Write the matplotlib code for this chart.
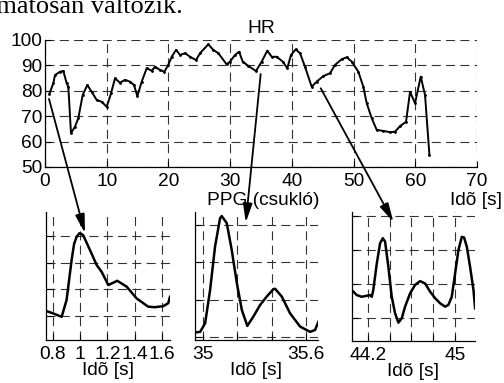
import matplotlib
matplotlib.use("Agg")
import matplotlib.pyplot as plt
from matplotlib.patches import ConnectionPatch

plt.rcParams['font.family'] = ['Liberation Sans', 'DejaVu Sans']
plt.rcParams['lines.scale_dashes'] = False

# ---- data ----
hr_t = [0.70, 1.35, 1.62, 2.43, 2.97, 3.51, 3.78, 4.21, 4.86, 5.40, 6.10, 6.86, 7.56, 8.37, 9.18,
        10.0, 10.7, 11.34, 12.15, 12.96, 13.77, 14.42, 14.96, 15.67, 16.48, 17.29, 17.82, 18.64, 19.33, 19.98,
        20.53, 21.23, 21.88, 22.69, 23.50, 24.47, 25.12, 26.46, 27.27, 28.08, 29.44, 29.98, 30.79, 31.44, 32.04,
        32.95, 34.19, 35.11, 36.02, 36.73, 37.54, 38.52, 39.26, 39.86, 40.62, 41.32, 42.13, 43.21, 44.02, 45.10,
        46.18, 46.99, 48.07, 48.88, 49.70, 50.77, 51.58, 52.13, 52.94, 53.75, 54.83, 55.91, 56.72, 57.53, 58.50,
        59.15, 59.96, 60.88, 61.58, 62.29]
hr_v = [78.7, 83.0, 86.2, 87.5, 87.8, 83.0, 81.6, 63.3, 65.9, 69.2, 78.3, 82.3, 79.6, 76.4, 75.7,
        73.7, 79.0, 84.9, 83.2, 84.3, 83.6, 82.3, 77.9, 83.6, 88.9, 87.9, 89.5, 88.2, 87.5, 90.2,
        93.4, 96.1, 94.1, 94.8, 93.4, 92.1, 94.8, 98.3, 96.1, 94.8, 90.4, 91.5, 94.1, 95.4, 91.5,
        89.8, 87.8, 91.5, 95.8, 93.4, 93.4, 91.5, 88.9, 94.1, 96.3, 94.8, 89.5, 81.6, 83.6, 85.8,
        86.9, 90.2, 92.4, 93.2, 91.5, 87.5, 81.6, 75.1, 69.2, 64.6, 64.2, 63.7, 63.9, 66.1, 67.8,
        79.6, 75.1, 85.6, 78.3, 54.7]
hr_xticks = [0, 10, 20, 30, 40, 50, 60, 70]
hr_yticks = [50, 60, 70, 80, 90, 100]

p1_t = [0.749, 0.80, 0.864, 0.90, 0.937, 0.955, 0.974, 0.993, 1.005, 1.022, 1.072, 1.121, 1.157, 1.206,
        1.272, 1.341, 1.414, 1.499, 1.549, 1.610, 1.646, 1.659]
p1_v = [1.19, 1.10, 0.97, 1.60, 3.10, 3.70, 3.97, 4.10, 4.09, 4.03, 3.47, 2.91, 2.66, 2.16,
        2.32, 2.10, 1.66, 1.35, 1.33, 1.37, 1.48, 1.72]
p1_xticks = [0.8, 1.0, 1.2, 1.4, 1.6]
p1_xlabels = ['0.8', '1', '1.2', '1.4', '1.6']

p2_t = [34.949, 34.983, 35.012, 35.041, 35.070, 35.099, 35.109, 35.138, 35.167, 35.197, 35.226, 35.258,
        35.293, 35.332, 35.371, 35.410, 35.420, 35.459, 35.507, 35.566, 35.624, 35.653, 35.672]
p2_v = [1.11, 1.13, 1.36, 2.26, 3.43, 4.19, 4.25, 4.06, 3.34, 2.44, 1.72, 1.29,
        1.54, 1.85, 2.08, 2.28, 2.29, 2.08, 1.63, 1.27, 1.13, 1.18, 1.40]
p2_xticks = [35.0, 35.2, 35.4, 35.6]
p2_xlabels = ['35', '', '', '35.6']

p3_t = [44.053, 44.099, 44.145, 44.191, 44.221, 44.237, 44.251, 44.283, 44.313, 44.338, 44.359, 44.389,
        44.420, 44.450, 44.481, 44.512, 44.542, 44.588, 44.634, 44.680, 44.726, 44.772, 44.817, 44.863,
        44.909, 44.939, 44.970, 45.001, 45.031, 45.062, 45.083, 45.108, 45.138, 45.169, 45.184]
p3_v = [1.83, 1.68, 1.63, 1.66, 1.68, 1.63, 1.83, 2.61, 3.20, 3.35, 3.25, 2.51,
        1.63, 1.15, 0.87, 1.00, 1.34, 1.73, 1.98, 2.09, 2.02, 1.78, 1.59, 1.44,
        1.34, 1.39, 1.63, 2.32, 3.00, 3.39, 3.37, 3.10, 2.51, 1.83, 1.29]
p3_xticks = [44.2, 44.4, 44.6, 44.8, 45.0]
p3_xlabels = ['44.2', '', '', '', '45']

sub_yticks = [1, 2, 3, 4]

# ---- figure ----
W, H = 504, 383
fig = plt.figure(figsize=(W / 100, H / 100), dpi=100)


def rect(l, t, r, b):
    return [l / W, (H - b) / H, (r - l) / W, (b - t) / H]


FS = 13.8
grid_kw = dict(color='#333333', linestyle=(0, (6.5, 3.8)), linewidth=0.8)


def style(ax, pad):
    for s in ['top', 'right']:
        ax.spines[s].set_visible(False)
    for s in ['left', 'bottom']:
        ax.spines[s].set_linewidth(0.9)
    ax.tick_params(direction='in', length=4, width=0.8, labelsize=FS, pad=pad)
    ax.grid(True, **grid_kw)
    ax.set_axisbelow(True)


ax = fig.add_axes(rect(45, 40, 477, 167))
ax.plot(hr_t, hr_v, color='black', lw=1.4, marker='.', ms=2)
ax.set_xlim(0, 70)
ax.set_ylim(50, 100)
ax.set_xticks(hr_xticks)
ax.set_yticks(hr_yticks)
style(ax, 4)
ax.tick_params(axis='y', pad=2)
ax.set_title('HR', fontsize=FS, pad=5)

ax1 = fig.add_axes(rect(46, 212, 170, 340))
ax1.plot(p1_t, p1_v, color='black', lw=1.8)
ax1.set_xlim(0.749, 1.659)
ax1.set_ylim(0.10, 4.90)
ax1.set_xticks(p1_xticks)
ax1.set_xticklabels(p1_xlabels)

ax2 = fig.add_axes(rect(195, 212, 318, 340))
ax2.plot(p2_t, p2_v, color='black', lw=1.8)
ax2.set_xlim(34.953, 35.67)
ax2.set_ylim(0.91, 4.36)
ax2.set_xticks(p2_xticks)
ax2.set_xticklabels(p2_xlabels)

ax3 = fig.add_axes(rect(351.7, 212, 475, 340.7))
ax3.plot(p3_t, p3_v, color='black', lw=1.8)
ax3.set_xlim(44.053, 45.183)
ax3.set_ylim(0.34, 4.12)
ax3.set_xticks(p3_xticks)
ax3.set_xticklabels(p3_xlabels)

for a in (ax1, ax2, ax3):
    a.set_yticks(sub_yticks)
    a.set_yticklabels([])
    style(a, 4.5)
    a.set_xlabel('Idõ [s]', fontsize=FS, labelpad=-1)

fig.text(476 / W, (H - 205) / H, 'Idõ [s]', fontsize=FS, ha='center', va='baseline')
fig.text(263 / W, (H - 205) / H, 'PPG (csukló)', fontsize=FS, ha='center', va='baseline')
fig.text(183 / W, (H - 13) / H, 'folyamatosan változik.', fontsize=19,
         family=['Liberation Serif', 'DejaVu Serif'], ha='right', va='baseline')

# arrows from HR curve to the zoomed PPG panels
arrows = [((0.65, 76.8), ax1, (1.035, 4.11)),
          ((34.95, 86.6), ax2, (35.249, 4.08)),
          ((44.68, 81.0), ax3, (44.435, 3.83))]
for start, axb, end in arrows:
    con = ConnectionPatch(xyA=start, coordsA='data', axesA=ax,
                          xyB=end, coordsB='data', axesB=axb,
                          arrowstyle='-|>,head_length=0.8,head_width=0.2',
                          mutation_scale=14, lw=1.3, color='black',
                          shrinkA=0, shrinkB=0)
    fig.add_artist(con)

fig.savefig('out.png', dpi=100)
